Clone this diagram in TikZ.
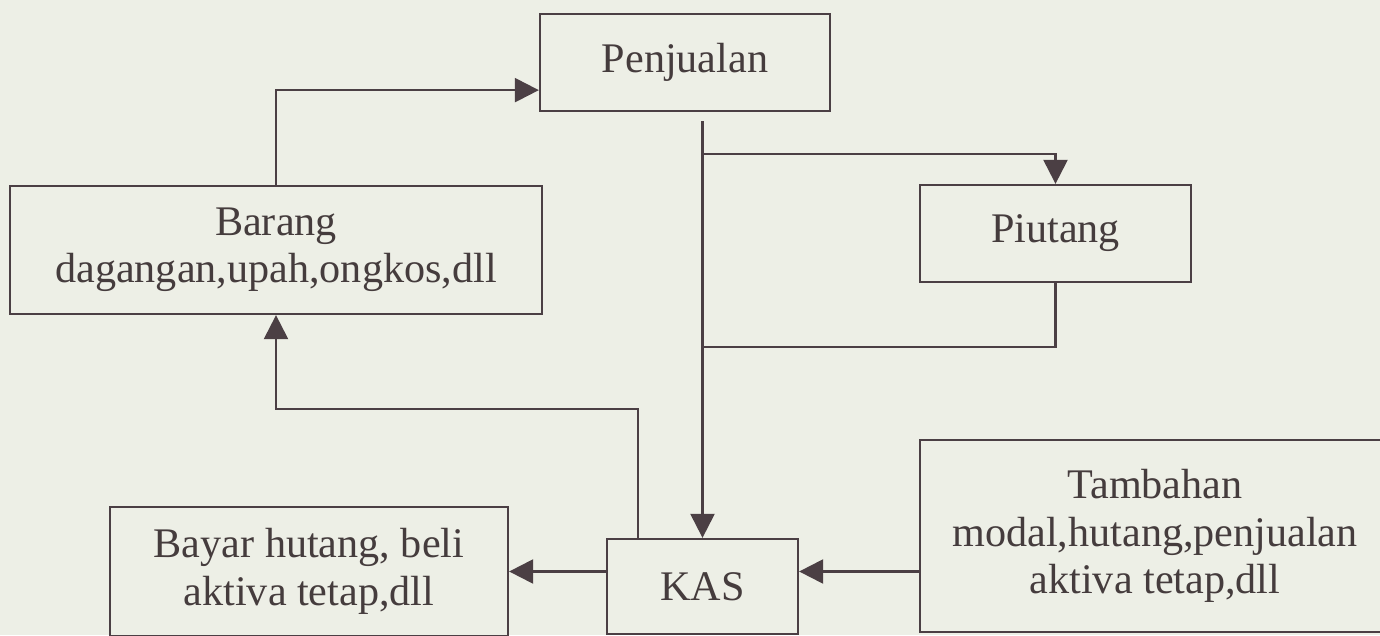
\documentclass[tikz,border=0pt]{standalone}
\usepackage{fontspec}
\setmainfont{Liberation Serif}
\usepackage{tikz}
\usetikzlibrary{arrows.meta,positioning,calc}
\usepackage{xcolor}
\definecolor{Paper}{HTML}{EDEFE6}
\definecolor{Ink}{HTML}{4B3F44}
\definecolor{TextInk}{HTML}{453C3D}
\tikzset{
  flow box/.style={draw=Ink,line width=1.3pt,align=center,text=TextInk,
    font=\fontsize{24}{27}\selectfont,inner sep=0pt},
  flow line/.style={draw=Ink,line width=1.3pt},
  flow arrow/.style={-{Triangle[length=4.8mm,width=4.8mm]},draw=Ink,line width=1.3pt}
}

\begin{document}
\begin{tikzpicture}
  \fill[Paper] (0,0) rectangle (27.6,12.7);
  \useasboundingbox (0,0) rectangle (27.6,12.7);
  \node[flow box,minimum width=5.8cm,minimum height=1.94cm] (penjualan) at (13.7,11.45) {Penjualan};
  \node[flow box,minimum width=10.64cm,minimum height=2.56cm] (barang) at (5.52,7.7) {Barang\\dagangan,upah,ongkos,dll};
  \node[flow box,minimum width=5.42cm,minimum height=1.94cm] (piutang) at (21.11,8.03) {Piutang};
  \node[flow box,minimum width=3.82cm,minimum height=1.9cm] (kas) at (14.05,0.97) {KAS};
  \node[flow box,minimum width=7.96cm,minimum height=2.58cm] (bayar) at (6.18,1.27) {Bayar hutang, beli\\aktiva tetap,dll};
  \node[flow box,minimum width=9.4cm,minimum height=3.84cm] (tambahan) at (23.1,1.98) {Tambahan\\modal,hutang,penjualan\\aktiva tetap,dll};
  \coordinate (split) at ($(kas.north |- penjualan.south)+(0,-0.18)$);
  \coordinate (tap) at ($(split)+(0,-0.66)$);
  \coordinate (back) at ($(split)+(0,-4.52)$);
  \draw[flow arrow] (barang.north) |- ([yshift=0.44cm]penjualan.south west);
  \draw[flow arrow] (split) -- (kas.north);
  \draw[flow arrow] (tap) -| (piutang.north);
  \draw[flow line] (piutang.south) |- (back);
  \draw[flow arrow] ([xshift=0.64cm]kas.north west) -- ++(0,2.58) -| (barang.south);
  \draw[flow arrow] (kas.west |- bayar.east) -- (bayar.east);
  \draw[flow arrow] (tambahan.west |- bayar.east) -- (kas.east |- bayar.east);
\end{tikzpicture}
\end{document}
